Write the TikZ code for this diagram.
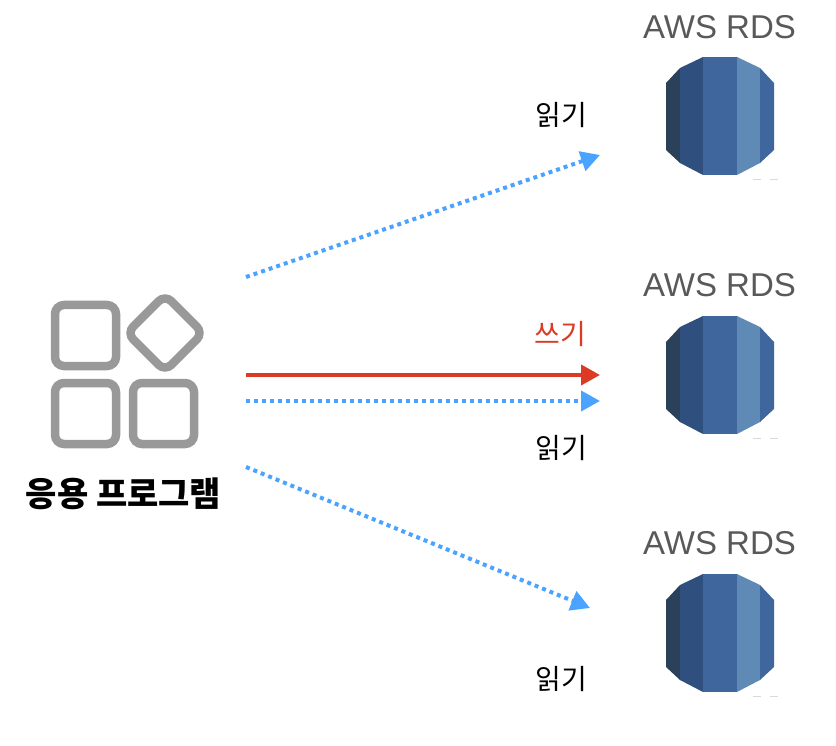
\documentclass[tikz,border=0pt]{standalone}
\usepackage{fontspec}
\setmainfont{Liberation Sans}
\newfontfamily\cjk{Noto Sans CJK KR}
\usetikzlibrary{arrows.meta}
\definecolor{readblue}{HTML}{4AA3FF}
\definecolor{writered}{HTML}{DC3A24}
\definecolor{appgray}{HTML}{999999}
\definecolor{rdsdark}{HTML}{2B4059}
\definecolor{rdsdeep}{HTML}{2F4F7F}
\definecolor{rdsmid}{HTML}{3F669D}
\definecolor{rdslight}{HTML}{5F8AB6}
\tikzset{
  appbox/.style={draw=appgray,line width=8.5pt,rounded corners=9pt,minimum size=61pt,inner sep=0pt},
  rdstitle/.style={text=black!65,font=\fontsize{33}{33}\selectfont,inner sep=0pt},
  readtext/.style={text=black,font=\cjk\fontsize{28}{28}\selectfont,inner sep=0pt},
  writetext/.style={text=writered,font=\cjk\fontsize{28}{28}\selectfont,inner sep=0pt},
  readline/.style={draw=readblue,line width=4pt,dash pattern=on 4pt off 4pt,
    -{Triangle[length=19pt,width=20pt,fill=readblue]}},
  writeline/.style={draw=writered,line width=4pt,-{Triangle[length=19pt,width=20pt,fill=writered]}},
  pics/rdsicon/.style={code={
    \fill [rdsdark] (-54,26) -- (-40,11) -- (-40,106) -- (-54,93) -- cycle;
    \fill [rdsdeep] (-40,11) -- (-17,0) -- (-17,118) -- (-40,106) -- cycle;
    \fill [rdsmid] (-17,0) -- (17,0) -- (17,118) -- (-17,118) -- cycle;
    \fill [rdslight] (17,0) -- (40,11) -- (40,106) -- (17,118) -- cycle;
    \fill [rdsmid] (40,11) -- (54,26) -- (54,93) -- (40,106) -- cycle;
    \fill [black!15] (33,122) rectangle (41,123);
    \fill [black!15] (50,122) rectangle (58,123);
  }}
}
\begin{document}
\begin{tikzpicture}[x=1pt,y=-1pt]
\useasboundingbox (0,0) rectangle (836,746);
% application
\node [appbox] (appa) at (85.5,335.5) {};
\node [appbox,minimum size=54pt,rotate=45] (appb) at (165,333) {};
\node [appbox] (appc) at (85.5,413.5) {};
\node [appbox] (appd) at (163.5,413.5) {};
\node [text=black,font=\cjk\bfseries\fontsize{34}{34}\selectfont,inner sep=0pt] (applabel) at (123.5,494) {응용 프로그램};
% databases
\node [rdstitle] (titlea) at (719.5,27) {AWS RDS};
\pic at (720,57) {rdsicon};
\node [rdstitle] (titleb) at (719.5,285) {AWS RDS};
\pic at (720,316) {rdsicon};
\node [rdstitle] (titlec) at (719.5,543) {AWS RDS};
\pic at (720,574) {rdsicon};
% connectors
\coordinate (froma) at (246,277);
\coordinate (toa) at (600,155);
\coordinate (fromb) at (246,375);
\coordinate (tob) at (600,375);
\coordinate (fromc) at (246,401);
\coordinate (toc) at (600,401);
\coordinate (fromd) at (246,467);
\coordinate (tod) at (590,608);
\draw [readline] (froma) -- (toa);
\draw [writeline] (fromb) -- (tob);
\draw [readline] (fromc) -- (toc);
\draw [readline] (fromd) -- (tod);
% labels
\node [readtext] (reada) at (561,115) {읽기};
\node [writetext] (write) at (560,334) {쓰기};
\node [readtext] (readb) at (561,448) {읽기};
\node [readtext] (readc) at (561,679) {읽기};
\end{tikzpicture}
\end{document}
